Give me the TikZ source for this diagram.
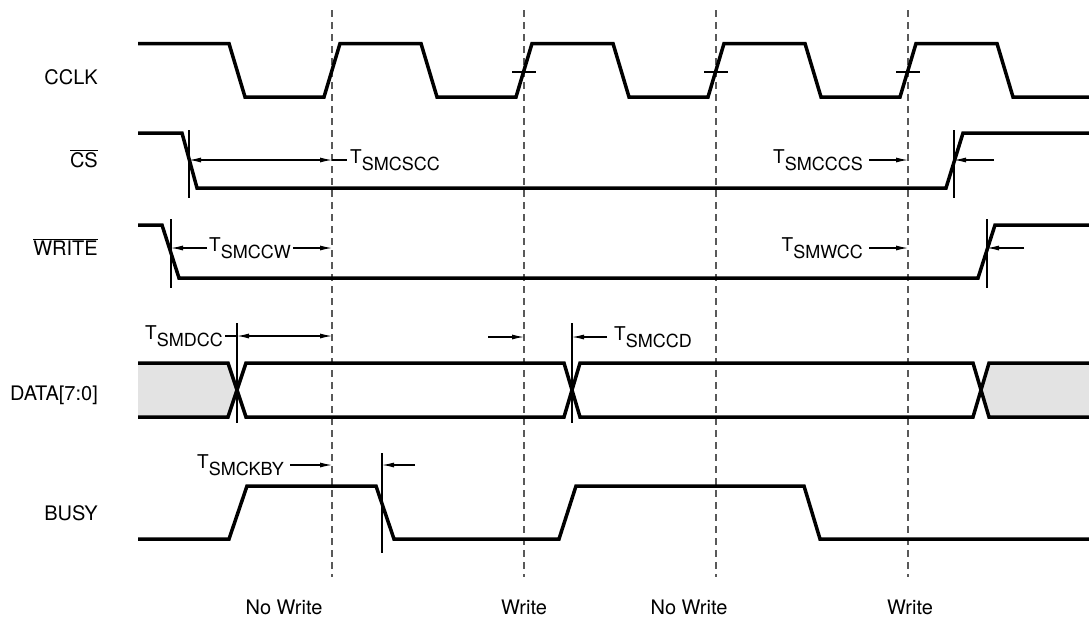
\documentclass[tikz,border=0pt]{standalone}
\usepackage{fontspec}
\setmainfont{TeX Gyre Heros}
\usetikzlibrary{arrows.meta}
\newcommand{\tsub}[1]{T\raisebox{-7pt}{\fontsize{18}{20}\selectfont #1}}

\begin{document}
\begin{tikzpicture}[x=1pt,y=-1pt,
    signal/.style={line width=3.5pt, line join=miter},
    thinmark/.style={line width=1.1pt},
    gridline/.style={line width=1.1pt, black!65, dash pattern=on 7pt off 5pt},
    tarr/.style={line width=1.1pt, -{Latex[length=12pt,width=5pt]}},
    tdbl/.style={line width=1.1pt, {Latex[length=12pt,width=5pt]}-{Latex[length=12pt,width=5pt]}},
    lbl/.style={font=\fontsize{20}{22}\selectfont, inner sep=0pt},
    tlbl/.style={font=\fontsize{19}{21}\selectfont, inner sep=0pt}]
  \useasboundingbox (0,0) rectangle (1089,619);

  % signal names
  \node[lbl, anchor=base east] (cclk) at (98,84) {CCLK};
  \node[lbl, anchor=base east] (cs) at (98,167) {$\overline{\mbox{CS}}$};
  \node[lbl, anchor=base east] (write) at (98,255) {$\overline{\mbox{WRITE}}$};
  \node[lbl, anchor=base east] (data) at (98,400) {DATA[7:0]};
  \node[lbl, anchor=base east] (busy) at (98,520) {BUSY};

  % clock edges used for sampling
  \foreach \k [count=\i] in {0,...,3}
    \coordinate (g\i) at (332+192*\k,10);
  \foreach \i in {1,...,4}
    \draw[gridline] (g\i) -- ++(0,567);
  \foreach \i in {2,...,4}
    \draw[thinmark] ([xshift=-12pt,yshift=-62pt]g\i) -- ++(24,0);

  % CCLK
  \draw[signal] (138,43.5) foreach \k in {0,...,3} {
      -- (229+192*\k,43.5) -- ++(16,53.5) -- (324+192*\k,97) -- ++(16,-53.5) }
    -- (997,43.5) -- ++(16,53.5) -- (1089,97);

  % CS and WRITE
  \draw[signal] (138,133) -- (182,133) -- (197,188) -- (946,188) -- (963,133) -- (1089,133);
  \draw[signal] (138,225) -- (162,225) -- (179,278) -- (978,278) -- (995,225) -- (1089,225);

  % DATA
  \fill[gray!22] (138,363) -- (228,363) -- (237,390) -- (228,417) -- (138,417) -- cycle;
  \fill[gray!22] (1089,363) -- (989,363) -- (980,390) -- (989,417) -- (1089,417) -- cycle;
  \draw[signal] (138,363) -- (228,363) -- (246,417) -- (564,417) -- (580,363) -- (973,363) -- (989,417) -- (1089,417);
  \draw[signal] (138,417) -- (228,417) -- (246,363) -- (564,363) -- (580,417) -- (973,417) -- (989,363) -- (1089,363);

  % BUSY
  \draw[signal] (138,539) -- (229,539) -- (247,486) -- (376,486) -- (394,539) -- (559,539)
    -- (576,486) -- (804,486) -- (820,539) -- (1089,539);

  % edge markers
  \coordinate (ecs1) at (189,130);
  \coordinate (ecs2) at (954,130);
  \coordinate (ewr1) at (171,219);
  \coordinate (ewr2) at (987,219);
  \coordinate (ed1) at (237,323);
  \coordinate (ed2) at (572,323);
  \coordinate (eb1) at (382,453);
  \foreach \e in {ecs1,ecs2} \draw[thinmark] (\e) -- ++(0,68);
  \foreach \e in {ewr1,ewr2} \draw[thinmark] (\e) -- ++(0,69);
  \foreach \e in {ed1,ed2,eb1} \draw[thinmark] (\e) -- ++(0,100);

  % timing labels
  \node[tlbl, anchor=west] (tsmcscc) at (350,160) {\tsub{SMCSCC}};
  \node[tlbl, anchor=east] (tsmcccs) at (863,160) {\tsub{SMCCCS}};
  \node[tlbl, anchor=west] (tsmccw) at (209,248) {\tsub{SMCCW}};
  \node[tlbl, anchor=east] (tsmwcc) at (863,248) {\tsub{SMWCC}};
  \node[tlbl, anchor=west] (tsmdcc) at (145,336) {\tsub{SMDCC}};
  \node[tlbl, anchor=west] (tsmccd) at (614,337) {\tsub{SMCCD}};
  \node[tlbl, anchor=east] (tsmckby) at (284,465) {\tsub{SMCKBY}};

  \coordinate (r1) at (994,160);
  \coordinate (r2) at (1024,248);
  \coordinate (l1) at (488,337);
  \coordinate (r4) at (415,465);

  \draw[tdbl] (tsmcscc.west -| ecs1) -- (tsmcscc.west -| g1);
  \draw[thinmark] (tsmcscc.west -| g1) -- ([xshift=-3pt]tsmcscc.west);
  \draw[tarr] ([xshift=6pt]tsmcccs.east) -- (tsmcccs.east -| g4);
  \draw[tarr] (r1) -- (r1 -| ecs2);
  \draw[tarr] ([xshift=-2pt]tsmccw.west) -- (tsmccw.west -| ewr1);
  \draw[tarr] ([xshift=2pt]tsmccw.east) -- (tsmccw.east -| g1);
  \draw[tarr] ([xshift=6pt]tsmwcc.east) -- (tsmwcc.east -| g4);
  \draw[tarr] (r2) -- (r2 -| ewr2);
  \draw[thinmark] ([xshift=2pt]tsmdcc.east) -- (tsmdcc.east -| ed1);
  \draw[tdbl] (tsmdcc.east -| ed1) -- (tsmdcc.east -| g1);
  \draw[tarr] (l1) -- (l1 -| g2);
  \draw[tarr] ([xshift=-7pt]tsmccd.west) -- (tsmccd.west -| ed2);
  \draw[tarr] ([xshift=6pt]tsmckby.east) -- (tsmckby.east -| g1);
  \draw[tarr] (r4) -- (r4 -| eb1);

  % cycle names
  \node[lbl, anchor=base] (nw1) at (284,614) {No Write};
  \node[lbl, anchor=base] (w1) at (524,614) {Write};
  \node[lbl, anchor=base] (nw2) at (689,614) {No Write};
  \node[lbl, anchor=base] (w2) at (910,614) {Write};
\end{tikzpicture}
\end{document}
